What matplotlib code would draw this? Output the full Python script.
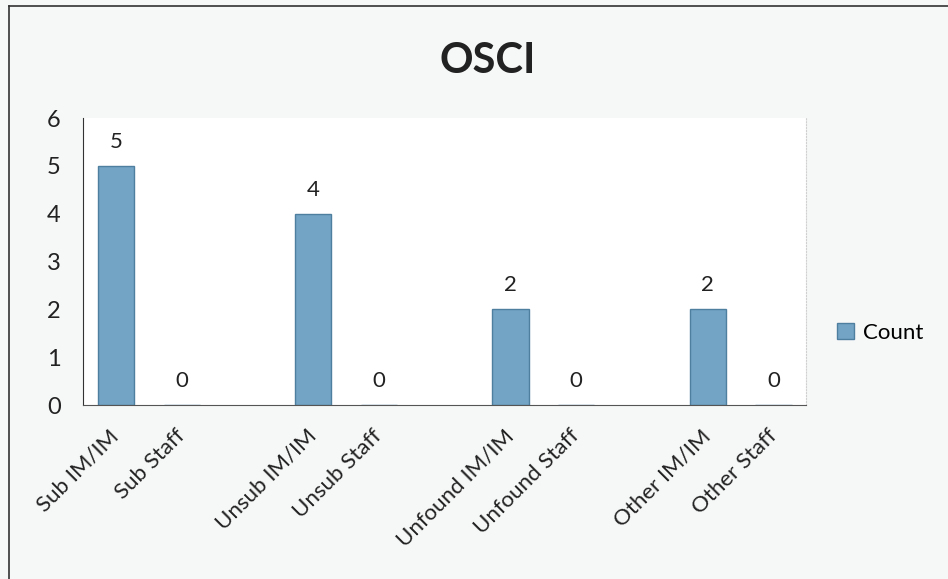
import matplotlib
matplotlib.use('Agg')
import matplotlib.pyplot as plt
from matplotlib.lines import Line2D

# chart data
categories = ['Sub IM/IM', 'Sub Staff', 'Unsub IM/IM', 'Unsub Staff',
              'Unfound IM/IM', 'Unfound Staff', 'Other IM/IM', 'Other Staff']
counts = [5, 0, 4, 0, 2, 0, 2, 0]
yticks = [0, 1, 2, 3, 4, 5, 6]

# pairs with an empty slot in between
pos = [i + i // 2 for i in range(len(categories))]

plt.rcParams['font.family'] = ['Lato', 'DejaVu Sans']

fig = plt.figure(figsize=(9.48, 5.79), dpi=100, facecolor='#f6f7f7')
ax = fig.add_axes([0.0876, 0.3005, 0.763, 0.4955])
ax.set_facecolor('white')

bars = ax.bar(pos, counts, width=0.55, color='#74a4c5', edgecolor='#4f7f9f',
              linewidth=1.0, label='Count')
for x, v in zip(pos, counts):
    ax.annotate(str(v), (x, v), xytext=(0, 10), textcoords='offset points',
                ha='center', va='bottom', fontsize=16, color='#222222')

ax.set_xlim(-0.5, 10.5)
ax.set_ylim(0, 6)
ax.set_yticks(yticks)
ax.set_xticks(pos)
ax.set_xticklabels(categories, rotation=45, ha='right', va='center',
                   rotation_mode='anchor', fontsize=16, color='#222222')
ax.tick_params(axis='y', labelsize=17, length=0, pad=16, labelcolor='#222222')
ax.tick_params(axis='x', length=0, pad=20)

ax.spines['top'].set_visible(False)
ax.spines['right'].set_color('#d0d0d0')
ax.spines['right'].set_linestyle(':')
ax.spines['left'].set_color('#333333')
ax.spines['bottom'].set_color('#555555')

fig.text(0.514, 0.895, 'OSCI', ha='center', va='center', fontsize=30,
         fontweight='bold', color='#222222')

fig.legend(handles=[bars], labels=['Count'], loc='center left',
           bbox_to_anchor=(0.862, 0.425), frameon=False, fontsize=16,
           handlelength=0.75, handleheight=0.75, handletextpad=0.4)

# scan frame: left and top edges
fig.add_artist(Line2D([0.0095, 0.0095], [0.0, 0.99], transform=fig.transFigure,
                      color='#333333', lw=1.2))
fig.add_artist(Line2D([0.0095, 1.0], [0.99, 0.99], transform=fig.transFigure,
                      color='#333333', lw=1.2))

fig.savefig('out.png', dpi=100, facecolor=fig.get_facecolor())
